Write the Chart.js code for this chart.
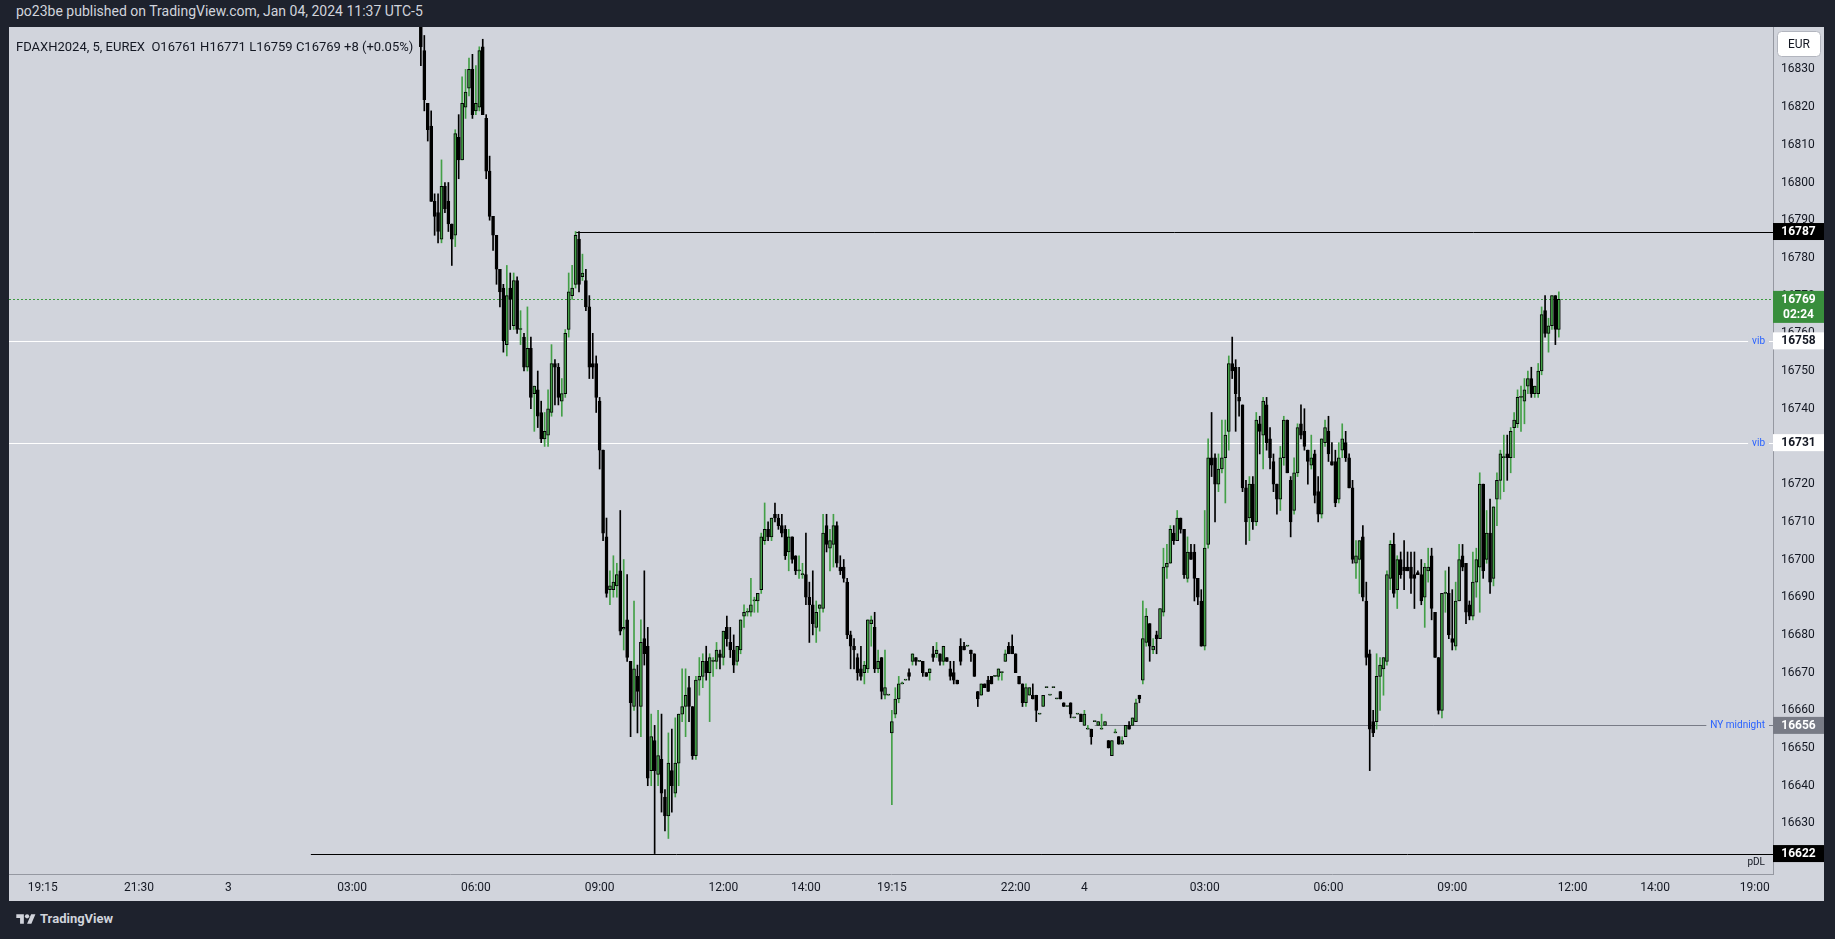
<!DOCTYPE html>
<html>
<head>
<meta charset="utf-8">
<script src="https://cdn.jsdelivr.net/npm/chart.js@4.4.1/dist/chart.umd.min.js"></script>
<style>
html,body{margin:0;padding:0;background:#1e222d;width:1835px;height:939px;overflow:hidden;font-family:Roboto,"Liberation Sans",sans-serif}
#top{position:absolute;left:16px;top:3px;color:#d1d4dc;font-size:14px;line-height:17px}
#wrap{position:absolute;left:9px;top:27px;width:1815px;height:874px;background:#d1d4dc}
#wrap canvas{position:absolute;left:0;top:0}
#legend{position:absolute;left:7px;top:12px;font-size:13px;line-height:16px;color:#131722;z-index:2;white-space:pre}
#foot{position:absolute;left:16px;top:911px;color:#d1d4dc;font-size:13px;font-weight:bold;display:flex;align-items:center;gap:4px}
</style>
</head>
<body>
<div id="top">po23be published on TradingView.com, Jan 04, 2024 11:37 UTC-5</div>
<div id="wrap">
  <div id="legend">FDAXH2024, 5, EUREX  O16761 H16771 L16759 C16769 +8 (+0.05%)</div>
  <canvas id="chart" width="1815" height="874"></canvas>
</div>
<div id="foot"><svg width="20" height="14" viewBox="0 0 36 26"><path d="M14 22H7V11H0V4h14v18zM28 22h-8l7.5-18h8L28 22z" fill="#d1d4dc"/><circle cx="20" cy="8" r="4" fill="#d1d4dc"/></svg>TradingView</div>
<script>
// 5 minute bars, FDAX
const opens=[16844,16835,16821,16815,16795,16792,16785,16799,16795,16789,16786,16812,16806,16820,16825,16830,16819,16820,16836,16817,16803,16791,16786,16777,16772,16757,16772,16762,16774,
16761,16759,16751,16756,16744,16745,16739,16732,16733,16739,16752,16751,16742,16744,16761,16770,16773,16785,16775,16774,16767,16752,16752,16742,16729,16706,16692,16692,16693,16697,
16681.5,16684,16673,16661,16669,16661,16679,16677,16644,16652,16643,16647,16637,16632,16644,16638,16646,16659,16661,16666,16661,16648,16668,16669,16673,16670,16673,16673,16675,16674,16682,
16678,16676,16673,16676,16685,16686,16686,16689,16689,16692,16705,16708,16706,16712,16711,16709,16708,16702,16706,16701,16697,16696,16696,16690,16688,16682,16687,16687,16709,16703,
16704,16709,16698,16698,16694,16680,16677,16674,16671,16670,16671,16683,16682,16671,16674,16664,16664,16654,16659,16663,16667,16668,16670,16673,16674,16673,16673,16670,16670,16675,16675,
16675,16673,16674,16671,16670,16668,16677,16677,16677,16676,16675,16665,16664,16667,16668,16669,16669,16669,16670,16673,16677,16677,16675,16669,16667,16662,16664,16664,16664,16659,16661,
16666,16664,16666,16663,16665,16662,16661,16662,16658,16659,16659,16656,16655,16655,16657,16656,16655,16656,16652,16648,16654,16653,16651,16653,16656,16656,16657,16664,16668,16678,
16683,16676,16680,16679,16686,16698,16699,16707,16705,16711,16708,16695,16702,16702,16695,16689,16677,16704,16727,16727,16720,16724,16727,16734,16752,16751,16743,16741,16719,16711,16720,
16710,16736,16733,16741,16732,16726,16720,16716,16727,16737,16721,16713,16723,16736,16734,16729,16725,16728,16718,16712,16731,16734,16726,16726,16716,16729,16731,16727,16719,16699,
16700,16706,16689,16675,16657,16657,16669,16671,16673,16695,16704,16692,16700,16698,16698,16698,16696,16696.5,16696,16690,16697,16701,16686,16674,16660,16691,16691,16679,16677,16689,16701,
16699,16688,16685,16694,16698,16720,16700,16707,16695,16716,16721,16727,16728,16727,16735,16736,16743,16742,16746,16748,16744,16744,16750,16766,16760,16762,16770,16761];
const highs=[16847,16839,16821,16819,16797,16797,16806,16800,16800,16789,16814,16818,16828,16830,16833,16834,16831,16836,16838,16818,16807,16791,16786,16777,16773,16778,16776,16776,16775,
16766,16760,16767,16759,16746,16750,16742,16739,16745,16757,16753,16752,16748,16761,16776,16778,16787,16787,16781,16777,16770,16760,16754,16743,16729,16711,16697,16701,16699,16713,
16700,16696,16673,16689,16672,16684,16697,16682,16659,16656,16660,16659,16639,16654,16655,16658,16659,16671,16671,16669,16661,16669,16674,16675,16677,16675,16674,16678,16676,16681,16685,
16682,16680,16677,16684,16688,16687,16695,16690,16691,16707,16715,16710,16711,16715,16712,16712,16709,16708,16706,16701,16701,16699,16707,16694,16697,16689,16688,16712,16712,16708,
16712,16710,16701,16700,16695,16681,16679,16675,16677,16673,16684,16685,16686,16676,16674,16676,16664,16660,16666,16669,16667.5,16668,16671,16675,16674,16673,16673,16670,16671,16677,16678,
16675,16677,16674,16673,16673,16668,16679,16678,16677,16676,16675,16665,16667,16667,16669,16669,16669,16671,16670,16676,16678,16680,16675,16669,16667,16667,16666,16667,16664,16659,16664,
16666,16664,16666,16663,16665,16662,16661,16662,16658,16659,16659,16660,16656,16655,16657,16657,16659,16657,16652,16652,16655,16653,16653,16656,16657,16658,16663,16664,16689,16687,
16683,16679,16681,16687,16703,16704,16709,16709,16713,16711,16708,16706,16704,16704,16695,16692,16713,16732,16739,16728,16728,16737,16737,16754,16759,16753,16751,16741,16721,16722,16722,
16739,16738,16743,16743,16735,16728,16720,16730,16738,16737,16722,16727,16736,16741,16740,16729,16733,16729,16722,16732,16737,16738,16731,16729,16731,16736,16734,16728,16721,16705,
16705,16709,16694,16676,16660,16675,16674,16674,16697,16705,16707,16701,16702,16705,16702,16702,16702,16697,16700,16699,16703,16703,16686,16674,16691,16697,16698,16692,16694,16704,16704,
16699,16689,16702,16703,16723,16720,16713,16716,16714,16723,16729,16733,16733,16735,16739,16745,16746,16748,16750,16751,16746,16752,16767,16770,16764,16770,16770,16771];
const lows=[16831,16819,16811,16795,16786,16784,16784,16792,16787,16778,16783,16801,16806,16817,16823,16817,16818,16819,16818,16801,16790,16782,16773,16767,16755,16754,16761,16761,16760,
16757,16750,16750,16740,16734,16735,16731,16730,16730,16738,16741,16741,16738,16743,16759,16769,16772,16771,16774,16766,16748,16748,16739,16724,16705,16690,16688,16690,16690,16680,
16676,16673,16653,16660,16654,16653,16672,16640,16640,16622,16640,16633,16628,16626,16633,16637,16640,16657,16653,16657,16647,16647,16664,16666,16668,16657,16669,16671,16671,16672,16677,
16674,16670,16672,16675,16682,16685,16685,16686,16686,16691,16704,16705,16705,16710,16708,16706,16700,16697,16699,16696,16695,16695,16688,16678,16680,16678,16681,16686,16702,16697,
16698,16698,16696,16694,16679,16671,16671,16668,16668,16667,16670,16677,16670,16670,16663,16663,16664,16635,16658,16662,16667,16668,16668,16672,16672,16673,16669,16669,16668,16673,16674,
16672,16672,16673,16668,16667,16667,16672,16676,16677,16673,16669,16661,16664,16666,16665,16667,16669,16668,16668,16673,16675,16675,16670,16667,16661,16661,16664,16663,16657,16659,16661,
16666,16664,16666,16663,16663,16661,16661,16658,16658,16659,16657,16656,16655,16651,16657,16656,16655,16656,16650,16648,16654,16651,16651,16653,16655,16656,16657,16662,16667,16677,
16673,16675,16675,16679,16685,16695,16699,16704,16705,16707,16695,16694,16700,16689,16688,16677,16676,16703,16722,16710,16718,16723,16715,16729,16748,16734,16738,16718,16704,16705,16708,
16709,16728,16724,16729,16724,16718,16712,16713,16725,16723,16706,16712,16722,16732,16729,16720,16724,16715,16710,16711,16730,16726,16725,16714,16715,16727,16726,16719,16699,16695,
16691,16689,16672,16644,16653,16655,16660,16664,16672,16692,16690,16687,16695,16692,16697,16691,16687,16696,16688,16682,16694,16684,16674,16659,16658,16686,16679,16676,16676,16689,16697,
16683,16684,16684,16690,16686,16695,16699,16691,16693,16709,16716,16718,16721,16723,16727,16735,16734,16736,16744,16743,16743,16743,16749,16759,16755,16761,16757,16759];
const closes=[16836,16822,16814,16795,16791,16787,16799,16793,16789,16785,16813,16806,16821,16824,16830,16818,16821,16835,16818,16803,16791,16786,16777,16771,16758,16770,16769,16774,16761,
16761,16751,16756,16743,16746,16738,16732,16734,16740,16752,16751,16743,16744,16760,16771,16772,16786,16773,16776,16767,16751,16751,16743,16729,16707,16691,16693,16694,16696,16681,
16682,16674,16662,16671,16665,16678,16675,16642,16653,16644,16648,16638,16632,16646,16640,16646,16659,16661,16664,16661,16648,16668,16669,16673,16670,16674,16673,16676,16674,16681,16679,
16676,16672,16677,16684,16686,16686,16688,16689,16691,16706,16708,16706,16711,16711,16709,16707,16701,16706,16700,16697,16697,16696,16690,16688,16683,16686,16688,16707,16704,16705,
16709,16699,16697,16695,16680,16677,16676,16670,16669,16672,16684,16684,16671,16673,16665,16666,16664,16657,16663,16667,16667,16668,16669,16675,16673,16673,16670,16669,16671,16674,16676,
16673,16677,16673,16669,16668,16667,16673,16676,16677,16675,16669,16663,16667,16666,16665,16667,16669,16671,16670,16675,16675,16675,16670,16667,16662,16666,16666,16663,16660,16659,16664,
16666,16664,16666,16663,16663,16661,16661,16659,16658,16659,16657,16659,16655,16653,16657,16657,16655,16657,16650,16652,16654,16651,16652,16656,16655,16658,16662,16663,16679,16685,
16677,16677,16679,16687,16698,16699,16708,16705,16711,16708,16696,16702,16700,16695,16690,16677,16703,16727,16725,16720,16724,16727,16733,16752,16750,16744,16742,16719,16710,16720,16710,
16737,16734,16742,16731,16727,16720,16716,16727,16737,16723,16710,16723,16735,16733,16730,16726,16727,16717,16712,16732,16735,16728,16725,16715,16727,16732,16727,16719,16700,16701,
16705,16690,16674,16655,16654,16669,16672,16674,16696,16704,16691,16700,16696,16697,16697,16695,16695,16696,16689,16698,16698,16687,16674,16660,16691,16691,16680,16678,16689,16700,16698,
16686,16685,16694,16700,16720,16697,16707,16694,16714,16721,16728,16727,16727,16734,16737,16743,16743,16745,16748,16744,16746,16750,16765,16760,16762,16770,16761,16769];

// time axis (bar index -> label)
const tickPos=[-110,-82,-56,-20,16,52,88,112,137,173,193,228,264,300,335,359,388];
const tickLabels=['19:15','21:30','3','03:00','06:00','09:00','12:00','14:00','19:15','22:00','4','03:00','06:00','09:00','12:00','14:00','19:00'];
const priceTicks=[16830,16820,16810,16800,16790,16780,16770,16760,16750,16740,16730,16720,16710,16700,16690,16680,16670,16660,16650,16640,16630];

// drawn levels
const levelPrices=[16787,16769,16758,16731,16656,16622];
const levelStart=[45,null,null,null,196,-32];
const levelNames=['','','vib','vib','NY midnight','pDL'];
const countdown='02:24';

const UP='#43a047', DOWN='#000000', PANEL='#d1d4dc', TXT='#131722';
const lineColor=['#000000','#3c9a3f','#ffffff','#ffffff','#787b86','#000000'];
const boxColor=['#000000','#388e3c','#ffffff','#ffffff','#787b86','#000000'];
const boxText=['#ffffff','#ffffff','#131722','#131722','#ffffff','#ffffff'];
const FONT='Roboto, "Liberation Sans", sans-serif';

const bars=opens.map((o,i)=>i);
const up=bars.map(i=>closes[i]>=opens[i]);
const wicks=bars.map(i=>({x:i,y:[Math.min(lows[i],opens[i],closes[i]),Math.max(highs[i],opens[i],closes[i])]}));
const bodies=bars.map(i=>{
  const lo=Math.min(opens[i],closes[i]), hi=Math.max(opens[i],closes[i]);
  return {x:i,y:[lo,Math.max(hi,lo+0.28)]};
});

const levels={
  id:'levels',
  beforeDatasetsDraw(chart){
    const {ctx,chartArea:a,scales:{x,y}}=chart;
    ctx.save();
    levelPrices.forEach((p,k)=>{
      const py=Math.round(y.getPixelForValue(p))+0.5;
      const x0=levelStart[k]==null?a.left:x.getPixelForValue(levelStart[k]);
      ctx.strokeStyle=lineColor[k];
      ctx.lineWidth=1;
      ctx.setLineDash(k==1?[2,2]:[]);
      ctx.beginPath();ctx.moveTo(x0,py);ctx.lineTo(a.right,py);ctx.stroke();
      const name=levelNames[k];
      if(name){
        ctx.font='10px '+FONT;
        ctx.textAlign='right';
        const w=ctx.measureText(name).width;
        const tx=a.right-8;
        if(name=='pDL'){
          ctx.fillStyle='#131722';ctx.textBaseline='top';
          ctx.fillText(name,tx,py+3);
        }else{
          ctx.fillStyle=PANEL;ctx.fillRect(tx-w-4,py-6,w+8,12);
          ctx.fillStyle='#2962ff';ctx.textBaseline='middle';
          ctx.fillText(name,tx,py);
        }
      }
    });
    ctx.restore();
  },
  afterDraw(chart){
    const {ctx,chartArea:a,scales:{y}}=chart;
    const W=chart.width;
    ctx.save();
    // price scale labels
    ctx.fillStyle=TXT;ctx.font='12px '+FONT;ctx.textAlign='left';ctx.textBaseline='middle';
    priceTicks.forEach(v=>ctx.fillText(String(v),a.right+8,y.getPixelForValue(v)));
    // currency box
    ctx.fillStyle='#ffffff';ctx.strokeStyle='#b2b5be';ctx.lineWidth=1;
    ctx.beginPath();ctx.roundRect(a.right+4.5,4.5,43,25,4);ctx.fill();ctx.stroke();
    ctx.fillStyle=TXT;ctx.textAlign='center';
    ctx.fillText('EUR',a.right+26,17.5);
    levelPrices.forEach((p,k)=>{
      const py=y.getPixelForValue(p);
      const h=k==1?32:17;
      const top=py-8.5;
      ctx.fillStyle=boxColor[k];
      ctx.fillRect(a.right,top,W-a.right,h);
      ctx.fillStyle=boxText[k];
      ctx.font='bold 12px '+FONT;
      ctx.fillText(String(p),a.right+(W-a.right)/2,top+9);
      if(k==1)ctx.fillText(countdown,a.right+(W-a.right)/2,top+24);
    });
    ctx.restore();
  }
};

new Chart('chart',{
  type:'bar',
  data:{
    datasets:[
      {data:wicks,backgroundColor:bars.map(i=>up[i]?UP:DOWN),barThickness:1,grouped:false,order:2},
      {data:bodies,backgroundColor:bars.map(i=>up[i]?UP:DOWN),borderColor:'#000000',borderWidth:1,borderSkipped:false,barThickness:3,grouped:false,order:1}
    ]
  },
  options:{
    responsive:false,
    animation:false,
    devicePixelRatio:1,
    layout:{padding:0,autoPadding:false},
    plugins:{legend:{display:false},tooltip:{enabled:false}},
    scales:{
      x:{
        type:'linear',min:-119.8,max:393.3,offset:false,
        grid:{display:false,drawTicks:false},
        border:{display:true,color:'#9598a1'},
        afterBuildTicks:s=>{s.ticks=tickPos.map(v=>({value:v}));},
        afterFit:s=>{s.height=27;},
        ticks:{autoSkip:false,maxRotation:0,padding:7,color:TXT,font:{family:FONT,size:12},
          callback:v=>tickLabels[tickPos.indexOf(v)]}
      },
      y:{
        position:'right',min:16616.58,max:16841.25,
        grid:{display:false,drawTicks:false},
        border:{display:true,color:'#9598a1'},
        afterFit:s=>{s.width=51;},
        ticks:{display:false}
      }
    }
  },
  plugins:[levels]
});
</script>
</body>
</html>
